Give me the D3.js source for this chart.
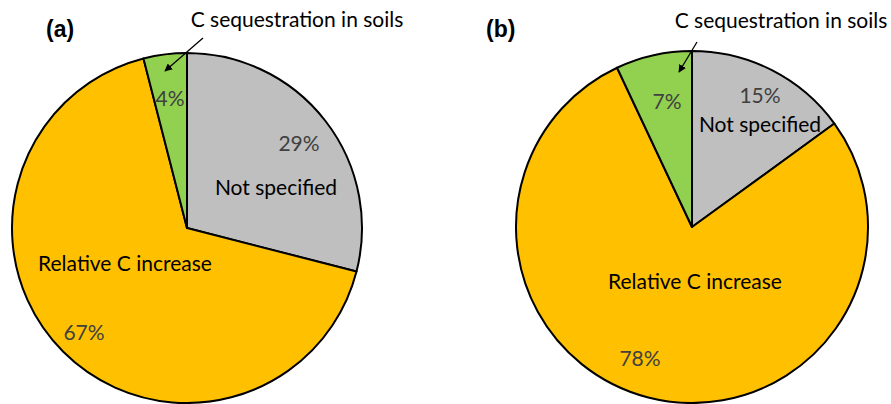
<!DOCTYPE html>
<html>
<head>
<meta charset="utf-8">
<script src="https://cdn.jsdelivr.net/npm/d3@7"></script>
<style>
  html, body { margin: 0; padding: 0; background: #fff; }
  svg { display: block; }
  text { font-family: Lato, "Open Sans", sans-serif; }
</style>
</head>
<body>
<div id="chart"></div>
<script>
// ---------- Data ----------
const categories = ["Not specified", "Relative C increase", "C sequestration in soils"];
const valuesA = [29, 67, 4];
const valuesB = [15, 78, 7];
const panelLabels = ["(a)", "(b)"];
const sliceColors = ["#bfbfbf", "#ffc000", "#92d050"];

const W = 891, H = 404;
const FS = "21px";

const svg = d3.select("#chart").append("svg")
  .attr("width", W)
  .attr("height", H);

const color = d3.scaleOrdinal().domain(categories).range(sliceColors);

// label placements relative to pie centre (cx, cy); one entry per category
const panels = [
  {
    values: valuesA, tag: panelLabels[0], cx: 187, cy: 228, r: 175, tagX: 46,
    name: [[89, -33], [-62, 43], null],
    pct: [[112, -77], [-103, 112], [-17, -122]],
    callout: { x: 297, y: 27, from: [203, 38], to: [165, 71] }
  },
  {
    values: valuesB, tag: panelLabels[1], cx: 692, cy: 227, r: 176, tagX: 486,
    name: [[68, -95], [3, 62], null],
    pct: [[68, -124], [-52, 139], [-25, -118]],
    callout: { x: 781, y: 28, from: [697, 42], to: [679, 72] }
  }
];

const defs = svg.append("defs");
defs.append("marker")
  .attr("id", "arrow")
  .attr("viewBox", "0 0 10 10")
  .attr("refX", 9).attr("refY", 5)
  .attr("markerWidth", 6).attr("markerHeight", 6)
  .attr("orient", "auto")
  .append("path")
  .attr("d", "M0,0 L10,5 L0,10 z")
  .attr("fill", "#000");

const pie = d3.pie().sort(null).value(d => d.value);

panels.forEach(p => {
  const data = categories.map((c, i) => ({ key: c, value: p.values[i] }));
  const arcs = pie(data);
  const arc = d3.arc().innerRadius(0).outerRadius(p.r);

  const g = svg.append("g").attr("transform", `translate(${p.cx},${p.cy})`);

  g.selectAll("path.slice")
    .data(arcs)
    .enter().append("path")
    .attr("class", "slice")
    .attr("d", arc)
    .attr("fill", d => color(d.data.key))
    .attr("stroke", "#000")
    .attr("stroke-width", 2)
    .attr("stroke-linejoin", "round");

  // category names inside slices
  arcs.forEach((a, i) => {
    if (!p.name[i]) return;
    g.append("text")
      .attr("x", p.name[i][0]).attr("y", p.name[i][1])
      .attr("text-anchor", "middle")
      .style("font-size", FS)
      .attr("fill", "#000")
      .text(a.data.key);
  });

  // percentages
  arcs.forEach((a, i) => {
    g.append("text")
      .attr("x", p.pct[i][0]).attr("y", p.pct[i][1])
      .attr("text-anchor", "middle")
      .style("font-size", FS)
      .attr("fill", "#404040")
      .text(a.data.value + "%");
  });

  // callout for the small slice
  svg.append("text")
    .attr("x", p.callout.x).attr("y", p.callout.y)
    .attr("text-anchor", "middle")
    .style("font-size", FS)
    .attr("fill", "#000")
    .text(categories[2]);

  svg.append("line")
    .attr("x1", p.callout.from[0]).attr("y1", p.callout.from[1])
    .attr("x2", p.callout.to[0]).attr("y2", p.callout.to[1])
    .attr("stroke", "#000")
    .attr("stroke-width", 1.3)
    .attr("marker-end", "url(#arrow)");

  svg.append("text")
    .attr("x", p.tagX).attr("y", 37)
    .style("font-family", "Arial, 'Liberation Sans', sans-serif")
    .style("font-size", "23px")
    .style("font-weight", "bold")
    .attr("fill", "#000")
    .text(p.tag);
});
</script>
</body>
</html>
